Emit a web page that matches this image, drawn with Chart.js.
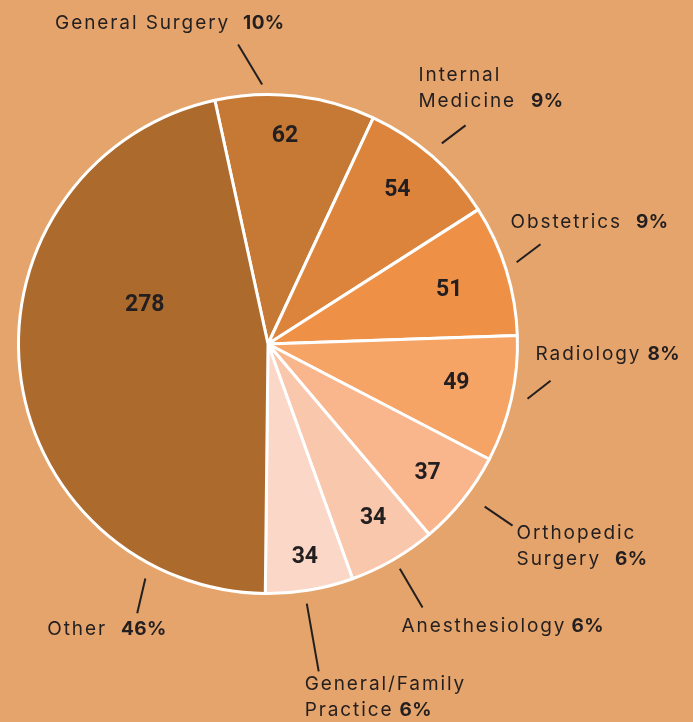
<!DOCTYPE html>
<html lang="en">
    <head>
        <meta charset="UTF-8">
        <title>Specialties</title>
        <script src="https://cdn.jsdelivr.net/npm/chart.js@4.4.1/dist/chart.umd.min.js"></script>
        <style>
            body {
                margin: 0;
                background: #E5A46B;
            }
            canvas {
                display: block;
            }
        </style>
    </head>
    <body>
        <canvas id="pie" width="693" height="722"></canvas>
        <script>
            // data, clockwise from the top
            const specialties = ["General Surgery", "Internal\nMedicine", "Obstetrics", "Radiology",
                "Orthopedic\nSurgery", "Anesthesiology", "General/Family\nPractice", "Other"];
            const counts = [62, 54, 51, 49, 37, 34, 34, 278];
            const sliceColors = ["#C67934", "#DD843C", "#EE9045", "#F6A466",
                "#F9B68C", "#F9C7AC", "#FAD7C6", "#AC6A2D"];

            // leader lines: [angle1, r1, angle2, r2] (deg from top, fraction of radius)
            const leaders = [
                [-1.3, 1.04, -5.7, 1.206],
                [40.9, 1.064, 42.1, 1.181],
                [71.8, 1.049, 69.9, 1.163],
                [101.9, 1.063, 97.4, 1.142],
                [126.9, 1.086, 126.6, 1.221],
                [149.6, 1.044, 149.6, 1.224],
                [171.5, 1.052, 171.2, 1.328],
                [207.6, 1.061, 205.9, 1.2]
            ];
            // where the text sits relative to the outer end of the leader, and gap before the %
            const textOffsets = [[-183, -21, 15], [-47, -50, 17], [-30, -22, 16], [-15, -26, 8],
                [4, 8, 16], [-21, 19, 7], [-14, 13, 8], [-90, 16, 16]];
            // inner value labels: fraction of radius, extra angle (deg)
            const innerPos = [[0.84, -1.7], [0.81, -1.4], [0.76, 0.2], [0.77, -1.4],
                [0.82, 0.1], [0.81, -1.3], [0.86, -0.3], [0.52, 24]];

            const ink = "#231F20";

            const pieLabels = {
                id: "pieLabels",
                afterDatasetsDraw(chart) {
                    const ctx = chart.ctx;
                    const arcs = chart.getDatasetMeta(0).data;
                    const total = counts.reduce((a, b) => a + b, 0);
                    const toXY = (arc, deg, r) => {
                        const a = (deg - 90) * Math.PI / 180;
                        return [arc.x + r * arc.outerRadius * Math.cos(a), arc.y + r * arc.outerRadius * Math.sin(a)];
                    };
                    ctx.save();
                    arcs.forEach((arc, i) => {
                        // value inside the slice
                        const mid = ((arc.startAngle + arc.endAngle) / 2) * 180 / Math.PI + 90;
                        const [ix, iy] = toXY(arc, mid + innerPos[i][1], innerPos[i][0]);
                        ctx.fillStyle = ink;
                        ctx.font = "bold 23px Roboto";
                        ctx.letterSpacing = "0px";
                        ctx.textAlign = "center";
                        ctx.textBaseline = "middle";
                        ctx.fillText(String(counts[i]), ix, iy + 1.5);

                        // leader line
                        const l = leaders[i];
                        const [x1, y1] = toXY(arc, l[0], l[1]);
                        const [x2, y2] = toXY(arc, l[2], l[3]);
                        ctx.strokeStyle = ink;
                        ctx.lineWidth = 2;
                        ctx.beginPath();
                        ctx.moveTo(x1, y1);
                        ctx.lineTo(x2, y2);
                        ctx.stroke();

                        // name + percent
                        const [dx, dy, gap] = textOffsets[i];
                        const tx = x2 + dx;
                        let ty = y2 + dy;
                        const lines = specialties[i].split("\n");
                        ctx.textAlign = "left";
                        lines.forEach((line, k) => {
                            ctx.font = "19px Inter";
                            ctx.letterSpacing = "1.9px";
                            ctx.fillText(line, tx, ty);
                            if (k === lines.length - 1) {
                                const w = ctx.measureText(line).width;
                                ctx.font = "bold 19px Inter";
                                ctx.letterSpacing = "0.4px";
                                ctx.fillText(Math.round(counts[i] / total * 100) + "%", tx + w + gap - 2, ty);
                            } else {
                                ty += 26;
                            }
                        });
                    });
                    ctx.restore();
                }
            };

            new Chart(document.getElementById("pie"), {
                type: "pie",
                data: {
                    labels: specialties,
                    datasets: [{
                        data: counts,
                        backgroundColor: sliceColors,
                        borderColor: "#FFFFFF",
                        borderWidth: 3,
                        hoverOffset: 0
                    }]
                },
                options: {
                    responsive: false,
                    animation: false,
                    rotation: -12.3,
                    layout: {
                        padding: { left: 17, top: 93, right: 174, bottom: 127 }
                    },
                    plugins: {
                        legend: { display: false },
                        tooltip: { enabled: false }
                    }
                },
                plugins: [pieLabels]
            });
        </script>
    </body>
</html>
